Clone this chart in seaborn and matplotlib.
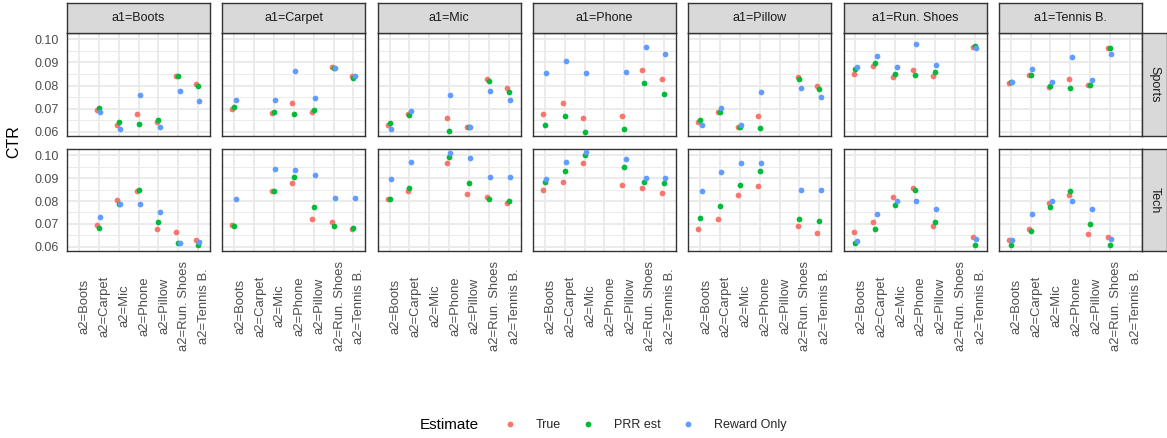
import numpy as np
import pandas as pd
import matplotlib
matplotlib.use('Agg')
import matplotlib.pyplot as plt
import matplotlib.transforms as mtrans
from matplotlib.lines import Line2D
import seaborn as sns

sns.set_theme(style='white')
plt.rcParams['font.family'] = ['Liberation Sans', 'DejaVu Sans']

products = ['Boots', 'Carpet', 'Mic', 'Phone', 'Pillow', 'Run. Shoes', 'Tennis B.']
segments = ['Sports', 'Tech']
estimates = ['True', 'PRR est', 'Reward Only']
n = np.nan

# rows = a1 panel, columns = a2 category
true_sports = [
    [n, .0696, .0630, .0678, .0641, .0843, .0806],
    [.0697, n, .0680, .0723, .0687, .0880, .0842],
    [.0630, .0678, n, .0659, .0620, .0830, .0790],
    [.0678, .0723, .0661, n, .0670, .0865, .0829],
    [.0641, .0687, .0620, .0668, n, .0836, .0799],
    [.0848, .0883, .0835, .0868, .0841, n, .0965],
    [.0810, .0845, .0794, .0830, .0801, .0964, n],
]
prr_sports = [
    [n, .0704, .0642, .0633, .0652, .0842, .0797],
    [.0709, n, .0686, .0678, .0696, .0877, .0832],
    [.0638, .0674, n, .0603, .0622, .0820, .0772],
    [.0628, .0667, .0601, n, .0613, .0813, .0765],
    [.0651, .0687, .0623, .0616, n, .0830, .0783],
    [.0870, .0899, .0851, .0845, .0859, n, .0970],
    [.0816, .0846, .0797, .0790, .0803, .0964, n],
]
reward_sports = [
    [n, .0687, .0612, .0758, .0620, .0777, .0735],
    [.0739, n, .0739, .0861, .0748, .0875, .0841],
    [.0612, .0688, n, .0759, .0622, .0778, .0736],
    [.0854, .0904, .0854, n, .0859, .0968, .0938],
    [.0629, .0703, .0629, .0772, n, .0791, .0749],
    [.0881, .0929, .0881, .0978, .0887, n, .0961],
    [.0816, .0871, .0817, .0922, .0822, .0938, n],
]
true_tech = [
    [n, .0695, .0804, .0844, .0677, .0663, .0631],
    [.0695, n, .0843, .0878, .0722, .0709, .0679],
    [.0808, .0843, n, .0964, .0830, .0818, .0793],
    [.0849, .0882, .0965, n, .0869, .0857, .0836],
    [.0679, .0722, .0827, .0865, n, .0690, .0660],
    [.0663, .0709, .0817, .0855, .0690, n, .0644],
    [.0631, .0677, .0791, .0828, .0658, .0644, n],
]
prr_tech = [
    [n, .0681, .0785, .0850, .0709, .0617, .0607],
    [.0692, n, .0843, .0904, .0775, .0692, .0683],
    [.0808, .0857, n, .0993, .0879, .0807, .0801],
    [.0885, .0929, .1003, n, .0949, .0884, .0878],
    [.0724, .0779, .0868, .0929, n, .0722, .0715],
    [.0616, .0680, .0782, .0849, .0708, n, .0606],
    [.0606, .0671, .0773, .0843, .0699, .0606, n],
]
reward_tech = [
    [n, .0729, .0789, .0786, .0753, .0619, .0622],
    [.0808, n, .0940, .0937, .0913, .0814, .0815],
    [.0897, .0972, n, .1010, .0988, .0903, .0903],
    [.0895, .0971, .1012, n, .0985, .0900, .0901],
    [.0844, .0926, .0968, .0967, n, .0849, .0850],
    [.0626, .0743, .0799, .0798, .0764, n, .0635],
    [.0629, .0744, .0802, .0799, .0766, .0636, n],
]

tables = {
    ('Sports', 'True'): true_sports, ('Sports', 'PRR est'): prr_sports,
    ('Sports', 'Reward Only'): reward_sports,
    ('Tech', 'True'): true_tech, ('Tech', 'PRR est'): prr_tech,
    ('Tech', 'Reward Only'): reward_tech,
}
dodge = {'True': -0.09, 'PRR est': 0.0, 'Reward Only': 0.07}
palette = {'True': '#F8766D', 'PRR est': '#00BA38', 'Reward Only': '#619CFF'}

rows = []
for (seg, est), tab in tables.items():
    for i, a1 in enumerate(products):
        for j, a2 in enumerate(products):
            rows.append(dict(segment=seg, a1=a1, a2=a2, a2_idx=j,
                             Estimate=est, CTR=tab[i][j]))
df = pd.DataFrame(rows).dropna()
df['xpos'] = df['a2_idx'] + df['Estimate'].map(dodge)

W, H = 1167, 438
fig = plt.figure(figsize=(W / 100, H / 100), dpi=100)
border = '#333333'

def fbox(x0, y0, x1, y1):
    return [x0 / W, 1 - y1 / H, (x1 - x0) / W, (y1 - y0) / H]

row_y = [(33, 136), (149, 251)]
step = 155.3
for r, seg in enumerate(segments):
    for c, a1 in enumerate(products):
        x0 = 67 + c * step
        ax = fig.add_axes(fbox(x0, row_y[r][0], x0 + 143, row_y[r][1]))
        sub = df[(df.segment == seg) & (df.a1 == a1)]
        for est in estimates:
            sns.scatterplot(data=sub[sub.Estimate == est], x='xpos', y='CTR',
                            color=palette[est], s=17, linewidth=0,
                            legend=False, ax=ax, zorder=3)
        ax.set_xlim(-0.6, 6.6)
        ax.set_ylim(0.0582, 0.1027)
        ax.set_xticks(range(7))
        ax.set_yticks([0.06, 0.07, 0.08, 0.09, 0.10])
        ax.set_yticks([0.065, 0.075, 0.085, 0.095], minor=True)
        ax.grid(which='major', color='#EBEBEB', lw=1.4)
        ax.grid(which='minor', axis='y', color='#EBEBEB', lw=0.7)
        ax.set_axisbelow(True)
        ax.set_xlabel('')
        ax.set_ylabel('')
        for s in ax.spines.values():
            s.set_color(border)
            s.set_linewidth(1.0)
        ax.tick_params(which='minor', length=0)
        ax.tick_params(which='major', length=2.9, width=1.1, color=border,
                       labelsize=9, labelcolor='#4D4D4D')
        ax.tick_params(axis='y', pad=3)
        if c == 0:
            ax.set_yticklabels(['0.06', '0.07', '0.08', '0.09', '0.10'])
        else:
            ax.tick_params(axis='y', length=0, labelleft=False)
        if r == 1:
            ax.set_xticklabels(['a2=' + p for p in products], rotation=90,
                               va='center', ha='center', fontsize=9.4)
            ax.tick_params(axis='x', pad=36.8)
            off = mtrans.ScaledTranslation(6 / 100, 0, fig.dpi_scale_trans)
            for lab in ax.get_xticklabels():
                lab.set_transform(lab.get_transform() + off)
        else:
            ax.tick_params(axis='x', length=0, labelbottom=False)

        if r == 0:
            sax = fig.add_axes(fbox(x0, 3, x0 + 143, 33))
            sax.set_facecolor('#D9D9D9')
            sax.set_xticks([])
            sax.set_yticks([])
            for s in sax.spines.values():
                s.set_color(border)
                s.set_linewidth(1.0)
            sax.text(0.5, 0.5, 'a1=' + a1, ha='center', va='center',
                     fontsize=9, color='#1A1A1A', transform=sax.transAxes)
    rax = fig.add_axes(fbox(1142, row_y[r][0], 1166.5, row_y[r][1]))
    rax.set_facecolor('#D9D9D9')
    rax.set_xticks([])
    rax.set_yticks([])
    for s in rax.spines.values():
        s.set_color(border)
        s.set_linewidth(1.0)
    rax.text(0.5, 0.5, seg, ha='center', va='center', rotation=270,
             fontsize=9, color='#1A1A1A', transform=rax.transAxes)

fig.text(14 / W, 1 - 142 / H, 'CTR', rotation=90, ha='center', va='center',
         fontsize=11.5, color='black')

handles = [Line2D([], [], ls='', marker='o', markersize=4.2,
                  markerfacecolor=palette[e], markeredgewidth=0)
           for e in estimates]
fig.legend(handles, estimates, loc='center', bbox_to_anchor=(645 / W, 1 - 425 / H),
           ncol=3, frameon=False, fontsize=9, handlelength=1.0,
           handletextpad=1.6, columnspacing=1.66)
fig.text(420 / W, 1 - 425 / H, 'Estimate', ha='left', va='center',
         fontsize=11, color='black')

fig.savefig('out.png', dpi=100)
